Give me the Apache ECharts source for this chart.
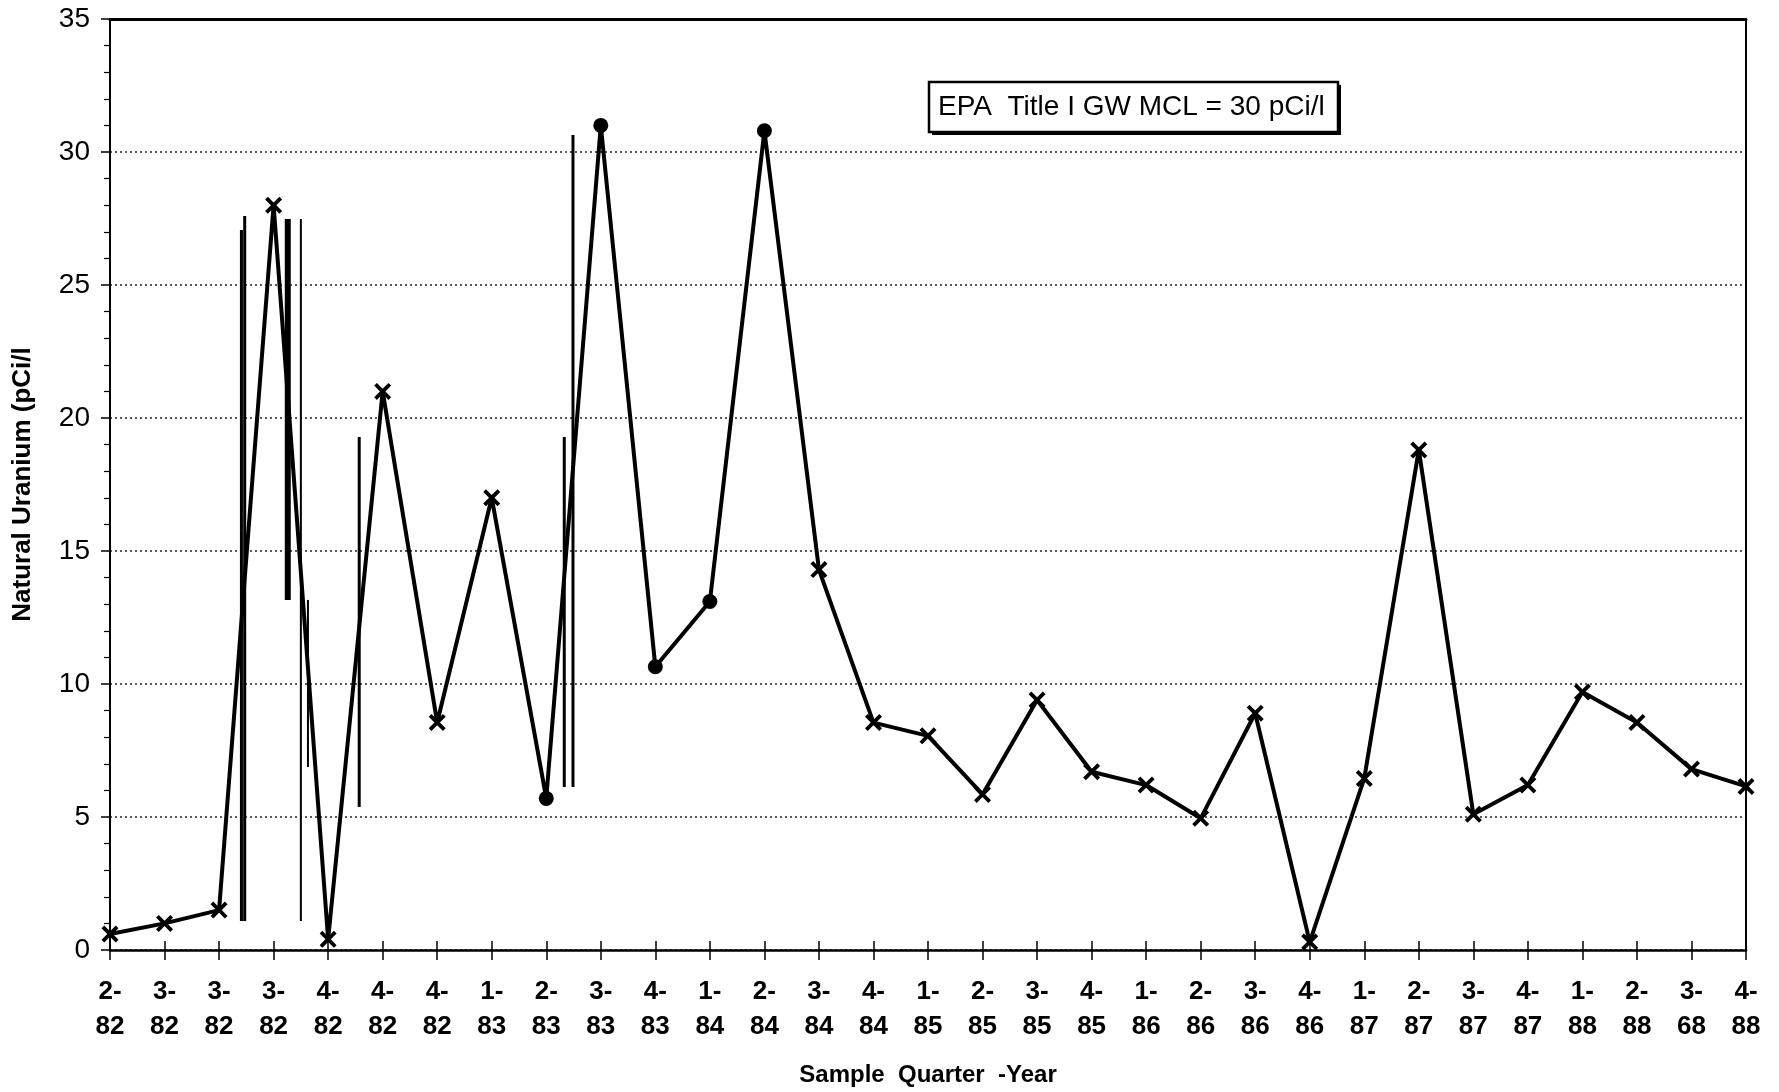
<!DOCTYPE html>
<html>
<head>
<meta charset="utf-8">
<script src="https://cdn.jsdelivr.net/npm/echarts@6/dist/echarts.min.js"></script>
<style>
html,body{margin:0;padding:0;background:#fff;}
#chart{width:1779px;height:1092px;}
</style>
</head>
<body>
<div id="chart"></div>
<script>
// ---- data ----
const categories = ['2-\n82','3-\n82','3-\n82','3-\n82','4-\n82','4-\n82','4-\n82','1-\n83','2-\n83','3-\n83','4-\n83','1-\n84','2-\n84','3-\n84','4-\n84','1-\n85','2-\n85','3-\n85','4-\n85','1-\n86','2-\n86','3-\n86','4-\n86','1-\n87','2-\n87','3-\n87','4-\n87','1-\n88','2-\n88','3-\n68','4-\n88'];
const uranium = [0.6,1.0,1.5,28.0,0.4,21.0,8.55,17.0,5.7,31.0,10.65,13.1,30.8,14.3,8.55,8.05,5.85,9.4,6.7,6.2,4.95,8.9,0.3,6.45,18.8,5.1,6.2,9.7,8.55,6.8,6.15];
const markerKind = ['x','x','x','x','x','x','x','x','dot','dot','dot','dot','dot','x','x','x','x','x','x','x','x','x','x','x','x','x','x','x','x','x','x'];
const yTicks = [0,5,10,15,20,25,30,35];
// vertical streaks (position in category units, low / high in pCi/l)
const streakX = [2.41,2.47,3.26,3.50,3.63,4.57,8.33,8.49];
const streakLow = [1.09,1.09,13.16,1.09,6.88,5.38,6.13,6.13];
const streakHigh = [27.07,27.59,27.48,27.48,13.16,19.29,19.29,30.64];
const legendText = 'EPA  Title I GW MCL = 30 pCi/l';

// ---- build ----
const streakWidths = [3,3,6,2,2,3,3,3];
const crossPath = 'path://M0,1.6 L1.6,0 L5,3.4 L8.4,0 L10,1.6 L6.6,5 L10,8.4 L8.4,10 L5,6.6 L1.6,10 L0,8.4 L3.4,5 Z';
const lineData = uranium.map((v,i)=>({
  value: v,
  symbol: markerKind[i]==='dot' ? 'circle' : crossPath,
  symbolSize: markerKind[i]==='dot' ? 15 : 17
}));
const streakData = streakX.map((x,i)=>[x, streakLow[i], streakHigh[i]]);
const font = '"Liberation Sans", Arial, Helvetica, sans-serif';

const chart = echarts.init(document.getElementById('chart'), null, {renderer:'canvas'});
chart.setOption({
  animation: false,
  backgroundColor: '#fff',
  grid: {left:110, right:33, top:19, bottom:142, containLabel:false},
  xAxis: [
    {
      type:'category', data: categories, boundaryGap:false, position:'bottom',
      axisLine:{show:true, onZero:false, lineStyle:{color:'#000', width:2.5}},
      axisTick:{show:true, inside:true, length:9, lineStyle:{color:'#000', width:1.5}},
      axisLabel:{interval:0, color:'#000', fontFamily:font, fontWeight:'bold', fontSize:26, lineHeight:35, margin:24},
      splitLine:{show:false},
      name:'Sample  Quarter  -Year', nameLocation:'middle', nameGap:113,
      nameTextStyle:{color:'#000', fontFamily:font, fontWeight:'bold', fontSize:24}
    },
    {
      type:'value', min:0, max:30, position:'top',
      axisLine:{show:true, onZero:false, lineStyle:{color:'#000', width:3}},
      axisTick:{show:false}, axisLabel:{show:false}, splitLine:{show:false}
    },
    {
      type:'category', data: categories, boundaryGap:false, position:'bottom',
      axisLine:{show:false, onZero:false},
      axisTick:{show:true, inside:false, length:10, lineStyle:{color:'#000', width:1.5}},
      axisLabel:{show:false}, splitLine:{show:false}
    }
  ],
  yAxis: [
    {
      type:'value', min:yTicks[0], max:yTicks[yTicks.length-1], interval:5,
      axisLine:{show:true, onZero:false, lineStyle:{color:'#000', width:2}},
      axisTick:{show:true, inside:false, length:9, lineStyle:{color:'#000', width:1.5}},
      minorTick:{show:true, splitNumber:5, length:6, lineStyle:{color:'#000', width:1.2}},
      axisLabel:{color:'#000', fontFamily:font, fontSize:28, margin:20},
      splitLine:{show:true, lineStyle:{color:'#222', width:1.6, type:[2,3]}},
      name:'Natural Uranium (pCi/l', nameLocation:'middle', nameGap:74, nameRotate:90,
      nameTextStyle:{color:'#000', fontFamily:font, fontWeight:'bold', fontSize:26}
    },
    {
      type:'value', min:0, max:35, position:'right',
      axisLine:{show:true, onZero:false, lineStyle:{color:'#000', width:2}},
      axisTick:{show:false}, axisLabel:{show:false}, splitLine:{show:false}
    }
  ],
  series: [
    {
      type:'custom', xAxisIndex:1, yAxisIndex:0, data: streakData,
      encode:{x:0, y:[1,2]}, silent:true, z:1,
      renderItem: function(params, api){
        const x = api.value(0);
        const p1 = api.coord([x, api.value(1)]);
        const p2 = api.coord([x, api.value(2)]);
        return {type:'line', shape:{x1:p1[0], y1:p1[1], x2:p2[0], y2:p2[1]},
                style:{stroke:'#000', lineWidth: streakWidths[params.dataIndex]}};
      }
    },
    {
      type:'line', xAxisIndex:0, yAxisIndex:0, data: lineData, z:3,
      showAllSymbol:true,
      lineStyle:{color:'#000', width:4},
      itemStyle:{color:'#000', borderColor:'#000', borderWidth:0}
    }
  ],
  graphic: [
    {type:'rect', shape:{x:932, y:85, width:409, height:50}, style:{fill:'#000'}, z:10},
    {type:'rect', shape:{x:929, y:82, width:409, height:50}, style:{fill:'#fff', stroke:'#000', lineWidth:2.5}, z:11},
    {type:'text', x:938, y:107, style:{text:legendText, fill:'#000', font:'28px ' + font, verticalAlign:'middle', align:'left'}, z:12}
  ]
});
</script>
</body>
</html>
